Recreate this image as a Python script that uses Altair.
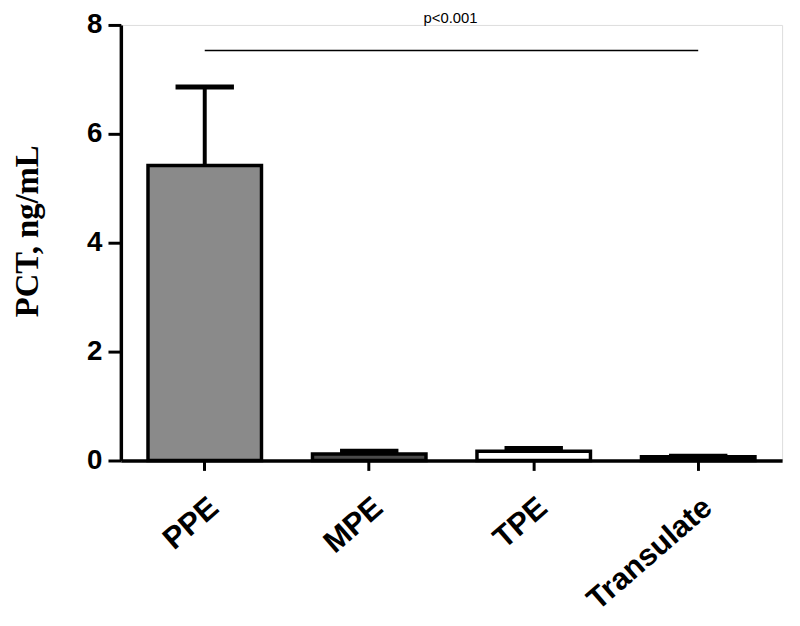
import altair as alt
import pandas as pd

categories = ["PPE", "MPE", "TPE", "Transulate"]
means = [5.42, 0.12, 0.17, 0.07]
uppers = [6.86, 0.17, 0.22, 0.08]
fills = ["#8a8a8a", "#4a4a4a", "#ffffff", "#000000"]
sig_label = "p<0.001"
sig_y = 7.53
sig_text_y = 8.12

df = pd.DataFrame({"cat": categories, "mean": means, "upper": uppers, "fill": fills})

xscale = alt.Scale(domain=categories, paddingInner=0.31, paddingOuter=0.165)
yscale = alt.Scale(domain=[0, 8])

xenc = alt.X("cat:N", scale=xscale,
             axis=alt.Axis(title=None, labelAngle=-41, labelFont="Liberation Sans",
                           labelFontWeight="bold", labelFontSize=31, labelColor="black",
                           domainColor="black", domainWidth=3.5, tickColor="black",
                           tickWidth=3, tickSize=10, labelPadding=22))
yenc = alt.Y("mean:Q", scale=yscale,
             axis=alt.Axis(title="PCT, ng/mL", values=[0, 2, 4, 6, 8], grid=False,
                           format="d",
                           labelFont="Liberation Sans", labelFontWeight="bold",
                           labelFontSize=28, labelColor="black", domainColor="black",
                           domainWidth=3.5, tickColor="black", tickWidth=3, tickSize=13,
                           labelPadding=6, titleFont="Liberation Serif",
                           titleFontSize=33, titleFontWeight="bold", titleColor="black",
                           titlePadding=43, titleY=208))

bars = alt.Chart(df).mark_bar(stroke="black", strokeWidth=3.5).encode(
    x=xenc, y=yenc, color=alt.Color("fill:N", scale=None))

err = alt.Chart(df).mark_rule(color="black", strokeWidth=4).encode(
    x=alt.X("cat:N", scale=xscale), y=alt.Y("mean:Q", scale=yscale), y2="upper:Q")

caps = alt.Chart(df).mark_tick(color="black", thickness=5, size=59, opacity=1,
                               orient="horizontal").encode(
    x=alt.X("cat:N", scale=xscale), y=alt.Y("upper:Q", scale=yscale))

sig_df = pd.DataFrame({"a": [categories[0]], "b": [categories[-1]], "y": [sig_y],
                       "ty": [sig_text_y], "t": [sig_label]})
sig_line = alt.Chart(sig_df).mark_rule(color="black", strokeWidth=1.5).encode(
    x=alt.X("a:N", scale=xscale), x2="b:N", y=alt.Y("y:Q", scale=yscale))

text_x = alt.Chart(sig_df).mark_text(fontSize=15, font="Liberation Sans", color="black",
                                     clip=False).encode(
    x=alt.value(333), y=alt.Y("ty:Q", scale=yscale), text="t:N")

chart = alt.layer(bars, err, caps, sig_line, text_x).properties(
    width=668, height=440,
    autosize=alt.AutoSizeParams(type="none"),
    padding={"left": 114, "top": 14, "right": 10, "bottom": 156},
).configure_view(stroke=None).configure(background="white")

chart.save("out.html", embed_options={"renderer": "svg", "actions": False})
